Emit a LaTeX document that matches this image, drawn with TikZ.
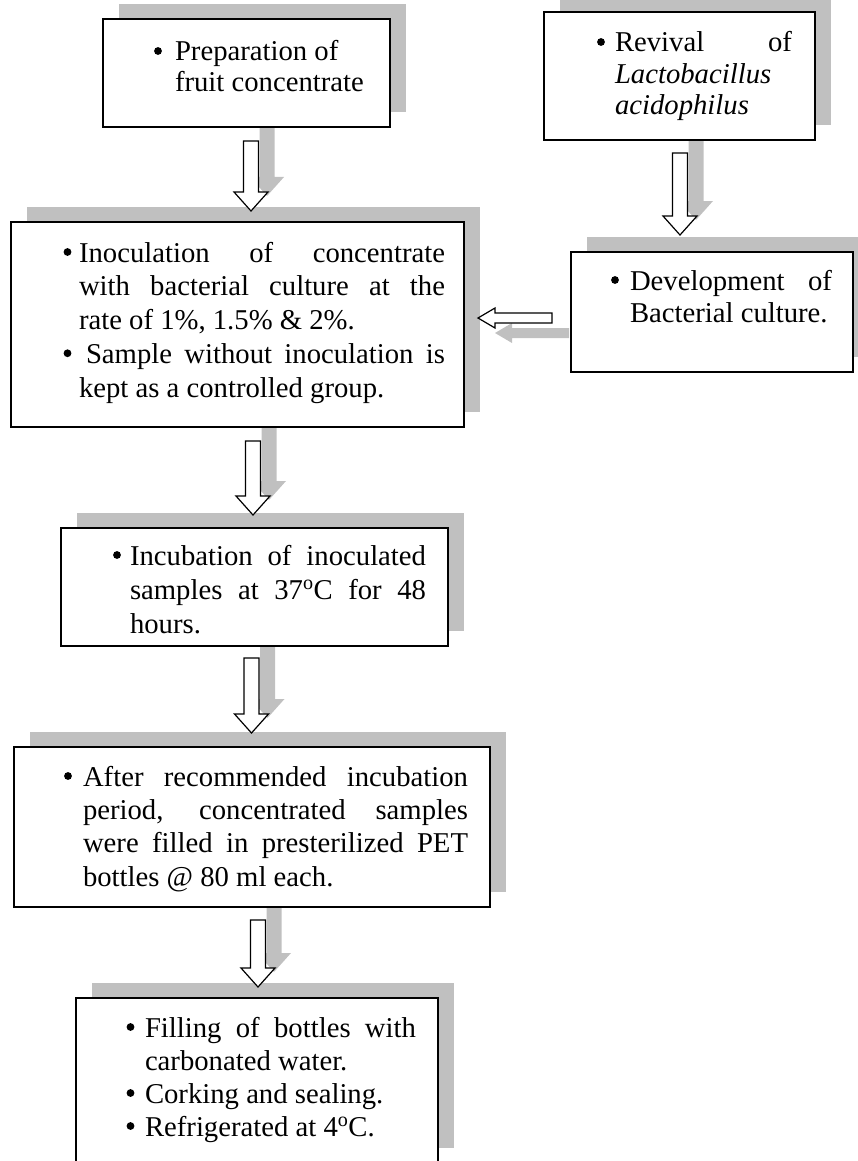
\documentclass[tikz,border=0pt]{standalone}
\usepackage{fontspec}
\setmainfont{Liberation Serif}
\usetikzlibrary{calc}
\definecolor{shd}{HTML}{C0C0C0}
\pgfdeclarelayer{bg}
\pgfsetlayers{bg,main}
\newcommand\jl[2]{\makebox[#1pt][s]{#2}}
\newcommand\bulat[2]{\fill ($(#1.base west)+(-#2,-10)$) circle (3.9);}
\tikzset{
  box/.style={draw=black, line width=1.6pt, fill=white, anchor=north west, inner sep=0pt, outer sep=0pt},
  txt/.style={anchor=base west, inner sep=0pt, outer sep=0pt, font=\fontsize{28.7}{33}\selectfont},
  blockarrow/.style={draw=black, line width=1.2pt, fill=white, line join=miter},
}
\newcommand\boxshadow[1]{%
  \begin{pgfonlayer}{bg}
    \fill[shd] ($(#1.north west)+(16,-15)$) rectangle ($(#1.south east)+(16,-15)$);
  \end{pgfonlayer}}
\newcommand\vblock[2]{%
  \begin{pgfonlayer}{bg}
    \fill[shd] ($(#1)+(8.5,-15)$) -- ($(#2)+(8.5,-34)$) -- ($(#2)+(-1,-34)$) -- ($(#2)+(16,-15)$) -- ($(#2)+(33,-34)$) -- ($(#2)+(23.5,-34)$) -- ($(#1)+(23.5,-15)$) -- cycle;
  \end{pgfonlayer}
  \draw[blockarrow] ($(#1)+(-7.5,0)$) -- ($(#2)+(-7.5,-19)$) -- ($(#2)+(-17,-19)$) -- (#2) -- ($(#2)+(17,-19)$) -- ($(#2)+(7.5,-19)$) -- ($(#1)+(7.5,0)$) -- cycle;}
\newcommand\hblock[2]{%
  \begin{pgfonlayer}{bg}
    \fill[shd] ($(#1)+(17,10)$) -- ($(#2)+(34,10)$) -- ($(#2)+(34,5)$) -- ($(#2)+(17,15)$) -- ($(#2)+(34,25)$) -- ($(#2)+(34,20)$) -- ($(#1)+(17,20)$) -- cycle;
  \end{pgfonlayer}
  \draw[blockarrow] ($(#1)+(0,-5)$) -- ($(#2)+(17,-5)$) -- ($(#2)+(17,-10)$) -- (#2) -- ($(#2)+(17,10)$) -- ($(#2)+(17,5)$) -- ($(#1)+(0,5)$) -- cycle;}
\begin{document}
\begin{tikzpicture}[x=1pt,y=-1pt]
\useasboundingbox (0,0) rectangle (858,1161);
\clip (0,0) rectangle (858,1161);
% boxes
\node[box, minimum width=287pt, minimum height=108pt] (b1) at (103,19) {};
\node[box, minimum width=271pt, minimum height=128pt] (b2) at (544,12) {};
\node[box, minimum width=453pt, minimum height=205pt] (b4) at (11,222) {};
\node[box, minimum width=282pt, minimum height=120pt] (b3) at (571,252) {};
\node[box, minimum width=387pt, minimum height=118pt] (b5) at (61,528) {};
\node[box, minimum width=476pt, minimum height=160pt] (b6) at (14,747) {};
\node[box, minimum width=362pt, minimum height=165pt] (b7) at (76,998) {};
\boxshadow{b1}\boxshadow{b2}\boxshadow{b3}\boxshadow{b4}\boxshadow{b5}\boxshadow{b6}\boxshadow{b7}
% texts
\node[txt] (t1a) at (175,61) {Preparation of};
\node[txt] (t1b) at (175,92) {fruit concentrate};
\node[txt] (t2a) at (615,52) {\jl{177}{Revival of}};
\node[txt] (t2b) at (615,84) {\textit{Lactobacillus}};
\node[txt] (t2c) at (615,115) {\textit{acidophilus}};
\node[txt] (t4a) at (79,262) {\jl{366}{Inoculation of concentrate}};
\node[txt] (t4b) at (79,295.75) {\jl{366}{with bacterial culture at the}};
\node[txt] (t4c) at (79,329.5) {rate of 1\%, 1.5\% \& 2\%.};
\node[txt] (t4d) at (79,363.25) {\jl{366}{\hspace*{7pt}Sample without inoculation is}};
\node[txt] (t4e) at (79,397) {kept as a controlled group.};
\node[txt] (t3a) at (630,290) {\jl{202}{Development of}};
\node[txt] (t3b) at (630,322) {Bacterial culture.};
\node[txt] (t5a) at (130,565) {\jl{296}{Incubation of inoculated}};
\node[txt] (t5b) at (130,599) {\jl{296}{samples at 37\textsuperscript{o}C for 48}};
\node[txt] (t5c) at (130,633) {hours.};
\node[txt] (t6a) at (83,786) {\jl{385}{After recommended incubation}};
\node[txt] (t6b) at (83,819) {\jl{385}{period, concentrated samples}};
\node[txt] (t6c) at (83,852) {\jl{385}{were filled in presterilized PET}};
\node[txt] (t6d) at (83,886) {bottles @ 80 ml each.};
\node[txt] (t7a) at (145,1037) {\jl{271}{Filling of bottles with}};
\node[txt] (t7b) at (145,1070) {carbonated water.};
\node[txt] (t7c) at (145,1103) {Corking and sealing.};
\node[txt] (t7d) at (145,1136) {Refrigerated at 4\textsuperscript{o}C.};
% bullets
\bulat{t1a}{17}
\bulat{t2a}{14}
\bulat{t4a}{11.5}
\bulat{t4d}{11.5}
\bulat{t3a}{15}
\bulat{t5a}{13}
\bulat{t6a}{15}
\bulat{t7a}{14.5}
\bulat{t7c}{14.5}
\bulat{t7d}{14.5}
% connector end points
\coordinate (a1s) at (251,141);
\coordinate (a1e) at (251,211);
\coordinate (a2s) at (680,153);
\coordinate (a2e) at (680,235);
\coordinate (a3s) at (253,441);
\coordinate (a3e) at (253,515);
\coordinate (a4s) at (251.5,658);
\coordinate (a4e) at (251.5,733);
\coordinate (a5s) at (258,920);
\coordinate (a5e) at (258,987);
\coordinate (h1s) at (552,318);
\coordinate (h1e) at (478,318);
\vblock{a1s}{a1e}
\vblock{a2s}{a2e}
\vblock{a3s}{a3e}
\vblock{a4s}{a4e}
\vblock{a5s}{a5e}
\hblock{h1s}{h1e}
\end{tikzpicture}
\end{document}
